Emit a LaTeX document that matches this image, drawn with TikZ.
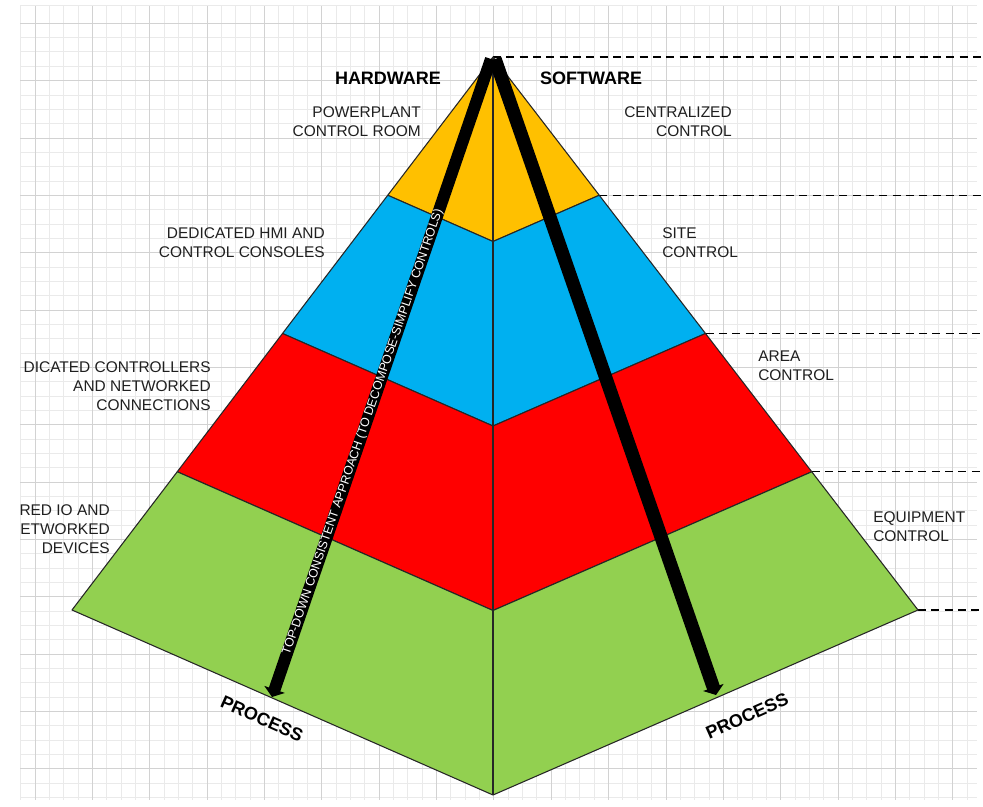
\documentclass[tikz,border=0pt]{standalone}
\usepackage{fontspec}
\setmainfont{Liberation Sans}
\usetikzlibrary{arrows.meta}
\definecolor{bandtop}{HTML}{FFC000}
\definecolor{bandsite}{HTML}{00B0F0}
\definecolor{bandarea}{HTML}{FF0000}
\definecolor{bandequip}{HTML}{92D050}
\definecolor{gridminor}{HTML}{EAEAEA}
\definecolor{gridmajor}{HTML}{D2D2D2}
\begin{document}
\begin{tikzpicture}[x=0.75pt,y=-0.75pt,
  lbl/.style={font=\fontsize{11.6}{14.3}\selectfont, inner sep=0pt, text=black!88},
  head/.style={font=\bfseries\fontsize{13.5}{16}\selectfont, inner sep=0pt, text=black},
  face/.style={draw=black!85, line width=0.8pt, line join=round},
  level/.style={dash pattern=on 6pt off 4pt, line width=1.1pt},
  flowline/.style={draw=black, -{Triangle[width=16pt,length=6pt]}},
  flowtext/.style={sloped, inner sep=0pt, text=white, font=\fontsize{9.3}{10}\selectfont},
]
\useasboundingbox (0,0) rectangle (983,807);
\fill[white] (0,0) rectangle (983,807);

% squared paper background
\begin{scope}
  \clip (20,5) rectangle (977,800);
  \foreach \k in {0,...,66} \draw[gridminor, line width=0.75pt] (20.7+14.34*\k,5) -- (20.7+14.34*\k,800);
  \foreach \j in {0,...,54} \draw[gridminor, line width=0.75pt] (20,23.3+14.34*\j) -- (977,23.3+14.34*\j);
  \foreach \k in {1,5,...,65} \draw[gridmajor, line width=0.75pt] (20.7+14.34*\k,5) -- (20.7+14.34*\k,800);
  \foreach \j in {0,4,...,52} \draw[gridmajor, line width=0.75pt] (20,23.3+14.34*\j) -- (977,23.3+14.34*\j);
  \draw[gridminor, line width=0.75pt] (20,5) -- (977,5);
\end{scope}

% pyramid corner points
\coordinate (apex) at (493,57);
\coordinate (l1) at (387.75,195.25); \coordinate (c1) at (493,241.5); \coordinate (r1) at (599.25,195.25);
\coordinate (l2) at (282.5,333.5);   \coordinate (c2) at (493,426);   \coordinate (r2) at (705.5,333.5);
\coordinate (l3) at (177.25,471.75); \coordinate (c3) at (493,610.5); \coordinate (r3) at (811.75,471.75);
\coordinate (l4) at (72,610);        \coordinate (c4) at (493,795);   \coordinate (r4) at (918,610);

% level markers
\foreach \p in {apex,r1,r2,r3,r4} \draw[level] (\p) -- (983,0 |- \p);

% bands
\filldraw[face, fill=bandtop]   (apex) -- (r1) -- (c1) -- (l1) -- cycle;
\filldraw[face, fill=bandsite]  (l1) -- (c1) -- (r1) -- (r2) -- (c2) -- (l2) -- cycle;
\filldraw[face, fill=bandarea]  (l2) -- (c2) -- (r2) -- (r3) -- (c3) -- (l3) -- cycle;
\filldraw[face, fill=bandequip] (l3) -- (c3) -- (r3) -- (r4) -- (c4) -- (l4) -- cycle;
\draw[face] (apex) -- (c4);

% flow arrows
\coordinate (startL) at (491,59);
\coordinate (startR) at (495,59);
\coordinate (tipL) at (272,697);
\coordinate (tipR) at (716,695);
\draw[flowline, line width=9pt] (startL) -- (tipL)
  node[flowtext, pos=0.585] {TOP-DOWN CONSISTENT APPROACH (TO DECOMPOSE-SIMPLIFY CONTROLS)};
\draw[flowline, line width=10pt] (startR) -- (tipR);

% headings
\node[head] (hw) at (388,78) {HARDWARE};
\node[head] (sw) at (591,78) {SOFTWARE};
\node[head, rotate=-24] (procL) at (262,719) {PROCESS};
\node[head, rotate=24] (procR) at (747,716) {PROCESS};

% hardware labels
\node[lbl, anchor=east, align=right] (hw1) at (421,122) {POWERPLANT\\CONTROL ROOM};
\node[lbl, anchor=east, align=right] (hw2) at (325,243) {DEDICATED HMI AND\\CONTROL CONSOLES};
\node[lbl, anchor=east, align=right] (hw3) at (211,386) {DICATED CONTROLLERS\\AND NETWORKED\\CONNECTIONS};
\node[lbl, anchor=east, align=right] (hw4) at (110,529) {RED IO AND\\ETWORKED\\DEVICES};

% software labels
\node[lbl, anchor=east, align=right] (sw1) at (732,122) {CENTRALIZED\\CONTROL};
\node[lbl, anchor=west, align=left] (sw2) at (662,243) {SITE\\CONTROL};
\node[lbl, anchor=west, align=left] (sw3) at (758,366) {AREA\\CONTROL};
\node[lbl, anchor=west, align=left] (sw4) at (873,527) {EQUIPMENT\\CONTROL};
\end{tikzpicture}
\end{document}
